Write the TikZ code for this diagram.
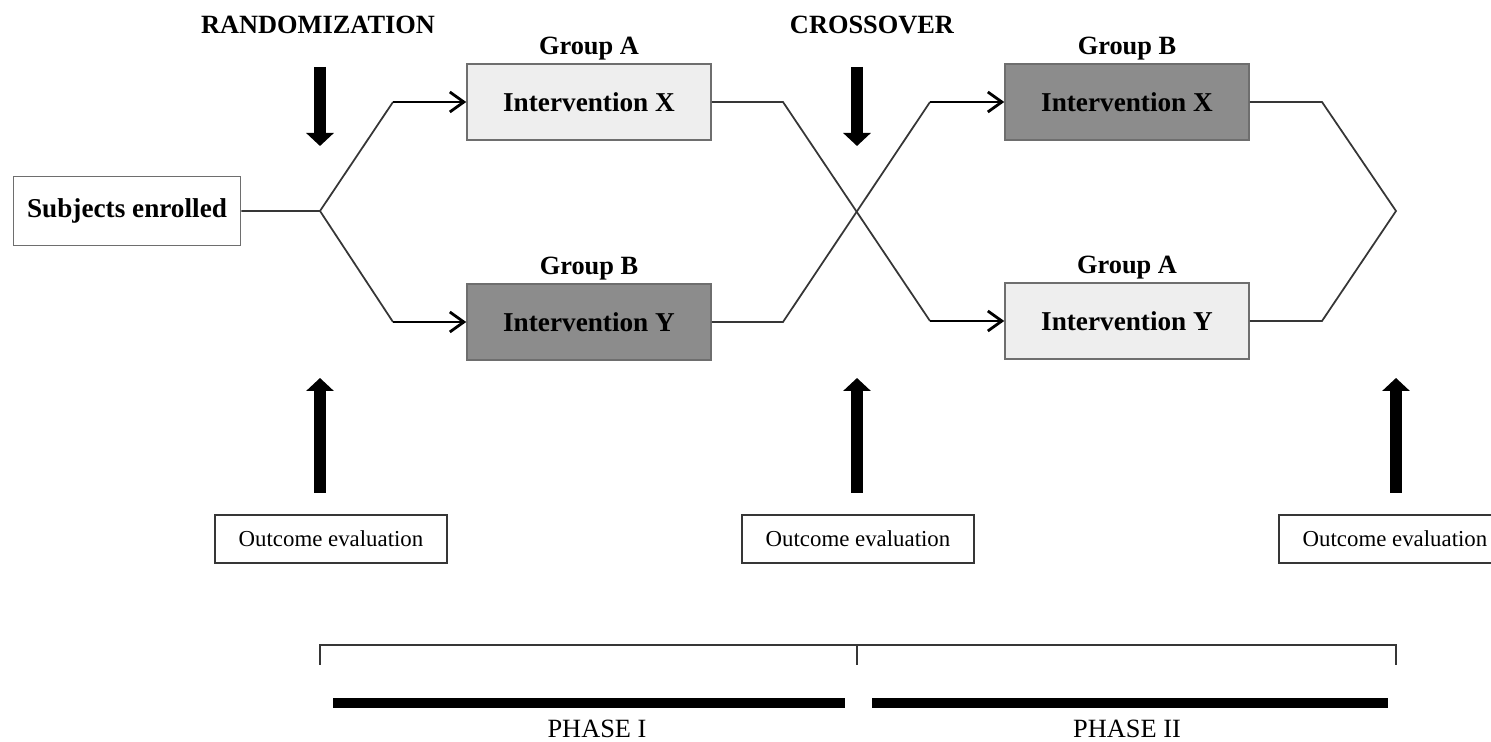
\documentclass[tikz,border=0pt]{standalone}
\usepackage{fontspec}
\setmainfont{Liberation Serif}
\usetikzlibrary{arrows.meta,positioning}
\definecolor{ArmLight}{HTML}{EEEEEE}
\definecolor{ArmDark}{HTML}{8C8C8C}
\definecolor{ArmEdge}{HTML}{6E6E6E}
\definecolor{ArmLine}{HTML}{363636}

\begin{document}
\begin{tikzpicture}[x=0.02cm,y=-0.02cm,node distance=0.06cm,every node/.style={font=\fontsize{15}{18}\selectfont}]
    \tikzset{armbox/.style={draw=ArmEdge,line width=0.9pt,minimum width=4.88cm,minimum height=1.52cm,
      inner sep=0pt,font=\fontsize{15.5}{18}\selectfont\bfseries},
      light/.style={armbox,fill=ArmLight},
      dark/.style={armbox,fill=ArmDark},
      grp/.style={inner sep=0pt,font=\fontsize{15}{18}\selectfont\bfseries},
      evalbox/.style={draw=ArmLine,line width=0.9pt,fill=white,minimum width=4.64cm,minimum height=0.96cm,
      inner sep=0pt,font=\fontsize{13}{16}\selectfont},
      phase/.style={inner sep=0pt,anchor=base},
      link/.style={line width=1pt,ArmLine},
      into/.style={line width=1.6pt,black,-{Straight Barb[length=0.28cm,width=0.4cm]}},
      bigarrow/.style={line width=0.24cm,-{Triangle[width=0.54cm,length=0.26cm]}}}
    \useasboundingbox (0,0) rectangle (1491,742);
    \clip (0,0) rectangle (1491,742);
    \node[armbox,fill=white,minimum width=4.54cm,minimum height=1.38cm] (subj) at (127,211) {Subjects enrolled};
    \node[light] (ax1) at (589,102) {Intervention X};
    \node[dark] (by1) at (589,322) {Intervention Y};
    \node[dark] (bx2) at (1127,102) {Intervention X};
    \node[light] (ay2) at (1127,321) {Intervention Y};
    \node[grp,above=of ax1] (ga1) {Group A};
    \node[grp,above=of by1] (gb1) {Group B};
    \node[grp,above=of bx2] (gb2) {Group B};
    \node[grp,above=of ay2] (ga2) {Group A};
    \node[grp] (rand) at (318,25) {RANDOMIZATION};
    \node[grp] (cross) at (872,25) {CROSSOVER};
    \node[evalbox] (oe1) at (331,539) {Outcome evaluation};
    \node[evalbox] (oe2) at (858,539) {Outcome evaluation};
    \node[evalbox] (oe3) at (1395,539) {Outcome evaluation};
    \node[phase] (ph1) at (597,738) {PHASE I};
    \node[phase] (ph2) at (1127,738) {PHASE II};
    % branch points of the arms
    \coordinate (split) at (320,211);
    \coordinate (up1) at (393,102);
    \coordinate (lo1) at (393,322);
    \coordinate (xa) at (783,102);
    \coordinate (xb) at (783,322);
    \coordinate (xc) at (930,102);
    \coordinate (xd) at (930,321);
    \coordinate (ra) at (1322,102);
    \coordinate (rb) at (1322,321);
    \coordinate (join) at (1396,211);
    \draw[link] (subj) -- (split) -- (up1);
    \draw[link] (split) -- (lo1);
    \draw[link] (ax1) -- (xa) -- (xd);
    \draw[link] (by1) -- (xb) -- (xc);
    \draw[link] (bx2) -- (ra) -- (join) -- (rb) -- (ay2);
    \foreach \x/\y in {up1/ax1,lo1/by1,xc/bx2,xd/ay2}{\draw[into] (\x) -- (\y);}
    % timing arrows
    \foreach \x in {320,857}{\draw[bigarrow] (\x,67) -- (\x,146);}
    \foreach \x in {320,857,1396}{\draw[bigarrow] (\x,493) -- (\x,378);}
    % phases
    \draw[link,line width=1.1pt] (320,665) -- (320,645) -- (1396,645) -- (1396,665);
    \draw[link,line width=1.1pt] (857,645) -- (857,665);
    \draw[line width=0.2cm] (333,703) -- (845,703);
    \draw[line width=0.2cm] (872,703) -- (1388,703);
  \end{tikzpicture}
\end{document}
